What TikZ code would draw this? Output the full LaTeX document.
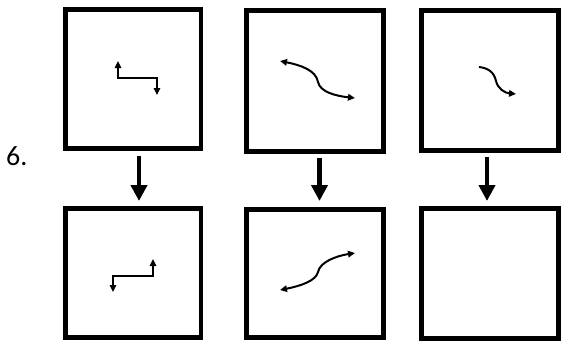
\documentclass[tikz,border=0pt]{standalone}
\usepackage{fontspec}
\setmainfont{Carlito}
\usetikzlibrary{arrows.meta}
\tikzset{
  panel/.style={draw=black, line width=4.6pt, fill=white, inner sep=0pt, rectangle},
  bigarrow/.style={line width=4.5pt, -{Triangle[length=16pt,width=16pt]}},
  thinpath/.style={line width=1.5pt, line join=miter},
  curvepath/.style={line width=2pt},
  smalltip/.tip={Triangle[length=7pt,width=6.5pt]},
}
\begin{document}
\begin{tikzpicture}[x=1pt,y=-1pt]
\useasboundingbox (0,0) rectangle (561,341);
% panels
\node[panel, minimum width=135.7pt, minimum height=138.8pt] (b1) at (133.2,79) {};
\node[panel, minimum width=137.4pt, minimum height=141.4pt] (b2) at (315,81) {};
\node[panel, minimum width=137.4pt, minimum height=140.4pt] (b3) at (490,80.5) {};
\node[panel, minimum width=135.7pt, minimum height=129.4pt] (b4) at (133.2,273) {};
\node[panel, minimum width=137.4pt, minimum height=128.4pt] (b5) at (315,273.5) {};
\node[panel, minimum width=137.4pt, minimum height=130.4pt] (b6) at (490,273.5) {};
% label
\node[anchor=base west, inner sep=0pt, font=\fontsize{28}{32}\selectfont] (lbl) at (6,165) {6.};
% big arrows
\coordinate (a1s) at (139,155.5); \coordinate (a1e) at (139,201);
\coordinate (a2s) at (319.5,158); \coordinate (a2e) at (319.5,201);
\coordinate (a3s) at (487,157); \coordinate (a3e) at (487,201);
\draw[bigarrow] (a1s) -- (a1e);
\draw[bigarrow] (a2s) -- (a2e);
\draw[bigarrow] (a3s) -- (a3e);
% panel 1: stepped double arrow
\draw[thinpath, smalltip-smalltip] (118,61) -- (118,78) -- (157,78) -- (157,95);
% panel 4: mirrored stepped arrow
\draw[thinpath, smalltip-smalltip] (113,292) -- (113,276) -- (153,276) -- (153,259);
% panel 2: S curve
\draw[curvepath, smalltip-smalltip] (280,61) .. controls (300,65) and (316,70) .. (318,82)
  .. controls (320,92) and (336,96) .. (355,98);
% panel 5: mirrored S curve
\draw[curvepath, smalltip-smalltip] (280,290) .. controls (300,286) and (316,281) .. (318,272)
  .. controls (320,262) and (336,256) .. (355,253);
% panel 3: short curve
\draw[curvepath, -smalltip] (479,67) .. controls (488,68) and (494,72) .. (496,81)
  .. controls (498,89) and (505,93) .. (516,94);
\end{tikzpicture}
\end{document}
